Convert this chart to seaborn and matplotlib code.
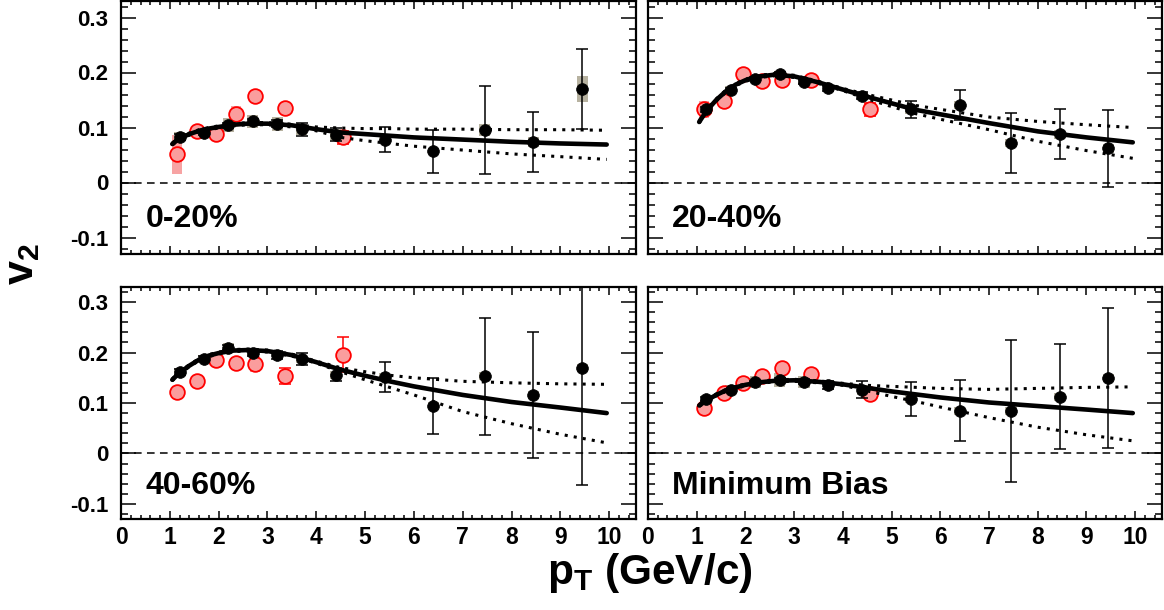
import matplotlib
matplotlib.use("Agg")
import matplotlib.pyplot as plt
import seaborn as sns

# ---------------- data ----------------
pt_black = [1.2, 1.7, 2.2, 2.7, 3.2, 3.7, 4.4, 5.4, 6.4, 7.45, 8.45, 9.45]
pt_red = [1.15, 1.55, 1.95, 2.35, 2.75, 3.35, 4.55]
curve_pt = [1.05, 1.2, 1.4, 1.6, 1.8, 2.0, 2.3, 2.6, 3.0, 3.5, 4.0, 4.5,
            5.0, 5.5, 6.0, 7.0, 8.0, 9.0, 9.95]

panel_labels = ["0-20%", "20-40%", "40-60%", "Minimum Bias"]

# 0-20%
v2_black_0 = [0.083, 0.090, 0.104, 0.111, 0.107, 0.097, 0.087, 0.078, 0.057, 0.096, 0.074, 0.170]
stat_black_0 = [0.006, 0.004, 0.004, 0.005, 0.006, 0.012, 0.012, 0.023, 0.039, 0.080, 0.055, 0.072]
sys_black_0 = [0.009, 0.006, 0.013, 0.012, 0.013, 0.010, 0.010, 0.006, 0.006, 0.011, 0.009, 0.023]
v2_red_0 = [0.051, 0.094, 0.089, 0.125, 0.157, 0.136, 0.082]
stat_red_0 = [0.004, 0.004, 0.004, 0.005, 0.005, 0.005, 0.012]
sys_red_0 = [0.035, 0.008, 0.006, 0.014, 0.006, 0.006, 0.008]
curve_mid_0 = [0.070, 0.080, 0.088, 0.094, 0.098, 0.101, 0.105, 0.107, 0.107, 0.104, 0.097, 0.091,
               0.088, 0.085, 0.082, 0.078, 0.074, 0.071, 0.069]
curve_hi_0 = [0.072, 0.082, 0.090, 0.096, 0.100, 0.103, 0.107, 0.109, 0.109, 0.106, 0.101, 0.099,
              0.098, 0.098, 0.097, 0.097, 0.096, 0.096, 0.095]
curve_lo_0 = [0.068, 0.078, 0.086, 0.092, 0.096, 0.099, 0.103, 0.105, 0.105, 0.101, 0.094, 0.082,
              0.076, 0.071, 0.066, 0.059, 0.052, 0.047, 0.042]

# 20-40%
v2_black_1 = [0.133, 0.169, 0.189, 0.197, 0.183, 0.171, 0.158, 0.133, 0.141, 0.072, 0.088, 0.062]
stat_black_1 = [0.004, 0.003, 0.003, 0.004, 0.004, 0.005, 0.007, 0.016, 0.027, 0.054, 0.045, 0.070]
sys_black_1 = [0.008, 0.006, 0.006, 0.006, 0.006, 0.006, 0.006, 0.008, 0.008, 0.008, 0.008, 0.008]
v2_red_1 = [0.133, 0.149, 0.198, 0.185, 0.187, 0.186, 0.133]
stat_red_1 = [0.004, 0.004, 0.004, 0.005, 0.005, 0.006, 0.012]
sys_red_1 = [0.016, 0.008, 0.006, 0.008, 0.008, 0.008, 0.008]
curve_mid_1 = [0.110, 0.130, 0.150, 0.166, 0.178, 0.186, 0.193, 0.196, 0.193, 0.182, 0.169, 0.156,
               0.144, 0.132, 0.124, 0.108, 0.093, 0.082, 0.073]
curve_hi_1 = [0.112, 0.132, 0.152, 0.168, 0.180, 0.188, 0.195, 0.198, 0.195, 0.184, 0.171, 0.160,
              0.150, 0.140, 0.133, 0.119, 0.111, 0.105, 0.100]
curve_lo_1 = [0.108, 0.128, 0.148, 0.164, 0.176, 0.184, 0.191, 0.194, 0.191, 0.180, 0.167, 0.152,
              0.138, 0.125, 0.115, 0.096, 0.075, 0.058, 0.044]

# 40-60%
v2_black_2 = [0.161, 0.188, 0.210, 0.199, 0.196, 0.187, 0.156, 0.151, 0.094, 0.153, 0.115, 0.169]
stat_black_2 = [0.006, 0.005, 0.005, 0.006, 0.008, 0.012, 0.013, 0.030, 0.056, 0.116, 0.125, 0.232]
sys_black_2 = [0.008, 0.008, 0.008, 0.008, 0.008, 0.008, 0.008, 0.008, 0.008, 0.008, 0.008, 0.008]
v2_red_2 = [0.121, 0.144, 0.186, 0.179, 0.177, 0.154, 0.196]
stat_red_2 = [0.005, 0.005, 0.005, 0.006, 0.006, 0.016, 0.035]
sys_red_2 = [0.012, 0.008, 0.008, 0.012, 0.016, 0.008, 0.008]
curve_mid_2 = [0.146, 0.160, 0.174, 0.186, 0.194, 0.199, 0.204, 0.205, 0.203, 0.195, 0.181, 0.166,
               0.154, 0.143, 0.133, 0.116, 0.102, 0.091, 0.080]
curve_hi_2 = [0.148, 0.162, 0.176, 0.188, 0.196, 0.201, 0.206, 0.207, 0.205, 0.197, 0.183, 0.170,
              0.162, 0.155, 0.150, 0.143, 0.140, 0.138, 0.137]
curve_lo_2 = [0.144, 0.158, 0.172, 0.184, 0.192, 0.197, 0.202, 0.203, 0.201, 0.193, 0.179, 0.162,
              0.146, 0.131, 0.116, 0.083, 0.059, 0.038, 0.021]

# Minimum Bias
v2_black_3 = [0.107, 0.125, 0.141, 0.146, 0.142, 0.135, 0.126, 0.108, 0.085, 0.084, 0.112, 0.149]
stat_black_3 = [0.004, 0.003, 0.003, 0.004, 0.005, 0.008, 0.017, 0.034, 0.060, 0.141, 0.104, 0.139]
sys_black_3 = [0.008, 0.010, 0.012, 0.014, 0.012, 0.010, 0.010, 0.008, 0.008, 0.008, 0.008, 0.008]
v2_red_3 = [0.091, 0.119, 0.139, 0.154, 0.170, 0.157, 0.117]
stat_red_3 = [0.004, 0.004, 0.004, 0.004, 0.005, 0.005, 0.008]
sys_red_3 = [0.006, 0.006, 0.006, 0.006, 0.006, 0.006, 0.006]
curve_mid_3 = [0.095, 0.105, 0.116, 0.125, 0.131, 0.136, 0.141, 0.144, 0.145, 0.142, 0.137, 0.130,
               0.123, 0.117, 0.111, 0.101, 0.094, 0.087, 0.080]
curve_hi_3 = [0.097, 0.107, 0.118, 0.127, 0.133, 0.138, 0.143, 0.146, 0.147, 0.144, 0.139, 0.135,
              0.133, 0.131, 0.129, 0.127, 0.129, 0.131, 0.132]
curve_lo_3 = [0.093, 0.103, 0.114, 0.123, 0.129, 0.134, 0.139, 0.142, 0.143, 0.140, 0.135, 0.124,
              0.113, 0.103, 0.092, 0.071, 0.052, 0.037, 0.025]

ytick_vals = [-0.1, 0.0, 0.1, 0.2, 0.3]
ytick_labels = ["-0.1", "0", "0.1", "0.2", "0.3"]
xtick_vals = [0, 1, 2, 3, 4, 5, 6, 7, 8, 9, 10]
xtick_labels = [str(v) for v in xtick_vals]

panels = [
    (v2_black_0, stat_black_0, sys_black_0, v2_red_0, stat_red_0, sys_red_0, curve_mid_0, curve_hi_0, curve_lo_0),
    (v2_black_1, stat_black_1, sys_black_1, v2_red_1, stat_red_1, sys_red_1, curve_mid_1, curve_hi_1, curve_lo_1),
    (v2_black_2, stat_black_2, sys_black_2, v2_red_2, stat_red_2, sys_red_2, curve_mid_2, curve_hi_2, curve_lo_2),
    (v2_black_3, stat_black_3, sys_black_3, v2_red_3, stat_red_3, sys_red_3, curve_mid_3, curve_hi_3, curve_lo_3),
]

# ---------------- style ----------------
sns.set_theme(style="ticks")
plt.rcParams["font.family"] = ["Liberation Sans", "DejaVu Sans"]
plt.rcParams["font.weight"] = "bold"
plt.rcParams["text.color"] = "black"
plt.rcParams["axes.labelcolor"] = "black"
plt.rcParams["xtick.color"] = "black"
plt.rcParams["ytick.color"] = "black"
plt.rcParams["xtick.labelcolor"] = "black"
plt.rcParams["ytick.labelcolor"] = "black"
plt.rcParams["mathtext.fontset"] = "custom"
plt.rcParams["mathtext.rm"] = "Liberation Sans:bold"
plt.rcParams["mathtext.it"] = "Liberation Sans:bold"
plt.rcParams["mathtext.bf"] = "Liberation Sans:bold"

W, H = 1164, 610
fig = plt.figure(figsize=(W / 100, H / 100), dpi=100)

def frac_rect(x0, y0, x1, y1):
    return [x0 / W, 1 - y1 / H, (x1 - x0) / W, (y1 - y0) / H]

rects = [
    frac_rect(121, 1, 636, 254),
    frac_rect(648, 1, 1162, 254),
    frac_rect(121, 287, 636, 519),
    frac_rect(648, 287, 1162, 519),
]

GREY = "#b7b2a0"
PINK = "#f7a3a3"
RED_FILL = "#fa9d9d"

for i, (rect, data, label) in enumerate(zip(rects, panels, panel_labels)):
    vb, sb, yb, vr, sr, yr, cm, ch, cl = data
    ax = fig.add_axes(rect)

    ax.axhline(0, color="black", lw=1.1, ls=(0, (5, 3.5)), zorder=0.5)

    # systematic boxes
    ax.bar(pt_red, [2 * s for s in yr], bottom=[v - s for v, s in zip(vr, yr)],
           width=0.21, color=PINK, linewidth=0, zorder=1)
    ax.bar(pt_black, [2 * s for s in yb], bottom=[v - s for v, s in zip(vb, yb)],
           width=0.23, color=GREY, linewidth=0, zorder=1)

    # red (open) points
    ax.errorbar(pt_red, vr, yerr=sr, fmt="none", ecolor="red", elinewidth=1.1,
                capsize=4, capthick=1.1, zorder=2)
    sns.scatterplot(x=pt_red, y=vr, ax=ax, s=112, color=RED_FILL, edgecolor="red",
                    linewidth=1.3, zorder=3, legend=False)

    # curves
    sns.lineplot(x=curve_pt, y=ch, ax=ax, color="black", lw=2.2,
                 linestyle=(0, (1, 2)), zorder=4, legend=False)
    sns.lineplot(x=curve_pt, y=cl, ax=ax, color="black", lw=2.2,
                 linestyle=(0, (1, 2)), zorder=4, legend=False)
    sns.lineplot(x=curve_pt, y=cm, ax=ax, color="black", lw=3.3, zorder=4, legend=False)

    # black points
    ax.errorbar(pt_black, vb, yerr=sb, fmt="none", ecolor="black", elinewidth=1.1,
                capsize=4, capthick=1.1, zorder=5)
    sns.scatterplot(x=pt_black, y=vb, ax=ax, s=72, color="black", edgecolor="black",
                    linewidth=0.5, zorder=6, legend=False)

    ax.set_xlim(0, 10.55)
    ax.set_ylim(-0.13, 0.33)
    ax.set_xlabel("")
    ax.set_ylabel("")

    ax.set_xticks(xtick_vals)
    ax.set_xticks([v / 5 for v in range(0, 53)], minor=True)
    ax.set_yticks(ytick_vals)
    ax.set_yticks([v / 50 for v in range(-6, 17)], minor=True)
    if i >= 2:
        ax.set_xticklabels(xtick_labels, fontsize=16.5, fontweight="bold", color="black")
    else:
        ax.set_xticklabels([])
    if i % 2 == 0:
        ax.set_yticklabels(ytick_labels, fontsize=16, fontweight="bold", color="black")
    else:
        ax.set_yticklabels([])

    ax.tick_params(which="both", direction="in", top=True, right=True,
                   width=1.1, color="black", labelcolor="black")
    ax.tick_params(axis="y", which="major", length=11, pad=9)
    ax.tick_params(axis="y", which="minor", length=5)
    ax.tick_params(axis="x", which="major", length=6, pad=5)
    ax.tick_params(axis="x", which="minor", length=3)
    for sp in ax.spines.values():
        sp.set_linewidth(1.6)
        sp.set_color("black")
        sp.set_visible(True)

    ax.text(0.5, -0.081, label, fontsize=23, fontweight="bold", color="black",
            ha="left", va="baseline", zorder=10)

fig.text(0.019, 1 - 264 / H, r"v$_{2}$", rotation=90, fontsize=31, color="black",
         fontweight="bold", ha="center", va="center")
fig.text(753 / W, 1 - 584 / H, r"p$_{T}$ (GeV/c)", fontsize=30.5, color="black",
         fontweight="bold", ha="right", va="baseline")

fig.savefig("out.png", dpi=100, facecolor="white")
